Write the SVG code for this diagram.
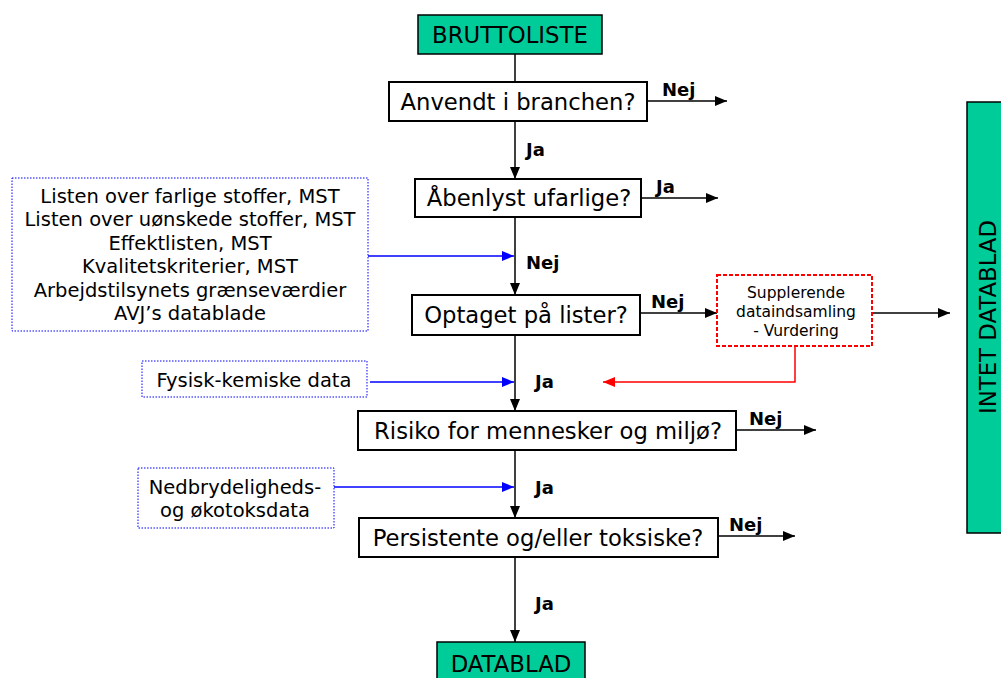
<svg xmlns="http://www.w3.org/2000/svg" width="1001" height="678" viewBox="0 0 1001 678">
<defs>
<marker id="ah" viewBox="0 0 12 10" refX="12" refY="5" markerWidth="12" markerHeight="10" markerUnits="userSpaceOnUse" orient="auto"><path d="M0,0 L12,5 L0,10 z" fill="#000"/></marker>
<marker id="ahb" viewBox="0 0 12 10" refX="12" refY="5" markerWidth="12" markerHeight="10" markerUnits="userSpaceOnUse" orient="auto"><path d="M0,0 L12,5 L0,10 z" fill="#0000FF"/></marker>
<marker id="ahr" viewBox="0 0 12 10" refX="12" refY="5" markerWidth="12" markerHeight="10" markerUnits="userSpaceOnUse" orient="auto"><path d="M0,0 L12,5 L0,10 z" fill="#FF0000"/></marker>
</defs>
<style>
text{font-family:"DejaVu Sans","Liberation Sans",sans-serif;fill:#000}
.box{fill:#fff;stroke:#000;stroke-width:2}
.grn{fill:#00CC99;stroke:#000;stroke-width:1.5}
.src{fill:#fff;stroke:#0000FF;stroke-width:1;stroke-dasharray:1.5,1.5}
.red{fill:#fff;stroke:#FF0000;stroke-width:2;stroke-dasharray:4,2}
.q{font-size:22.7px;text-anchor:middle}
.t{font-size:22.8px;text-anchor:middle}
.lbl{font-size:18px;font-weight:bold}
.s{font-size:19.5px;text-anchor:middle}
.sp{font-size:15.5px;text-anchor:middle}
.c{stroke:#000;stroke-width:1.5;fill:none}
.cb{stroke:#0000FF;stroke-width:1.5;fill:none}
.cr{stroke:#FF0000;stroke-width:1.5;fill:none}
</style>
<g id="connectors">
<line class="c" x1="515" y1="54" x2="515" y2="82"/>
<line class="c" x1="515" y1="121" x2="515" y2="179" marker-end="url(#ah)"/>
<line class="c" x1="515" y1="217" x2="515" y2="295" marker-end="url(#ah)"/>
<line class="c" x1="515" y1="335" x2="515" y2="411" marker-end="url(#ah)"/>
<line class="c" x1="515" y1="450" x2="515" y2="518" marker-end="url(#ah)"/>
<line class="c" x1="515" y1="557" x2="515" y2="642" marker-end="url(#ah)"/>
<line class="c" x1="647" y1="101" x2="727" y2="101" marker-end="url(#ah)"/>
<line class="c" x1="641" y1="198" x2="718" y2="198" marker-end="url(#ah)"/>
<line class="c" x1="640" y1="313" x2="717" y2="313" marker-end="url(#ah)"/>
<line class="c" x1="872" y1="313" x2="950" y2="313" marker-end="url(#ah)"/>
<line class="c" x1="736" y1="430" x2="816" y2="430" marker-end="url(#ah)"/>
<line class="c" x1="718" y1="536" x2="795" y2="536" marker-end="url(#ah)"/>
<line class="cb" x1="368" y1="256" x2="514" y2="256" marker-end="url(#ahb)"/>
<line class="cb" x1="370" y1="382" x2="514" y2="382" marker-end="url(#ahb)"/>
<line class="cb" x1="334" y1="487" x2="514" y2="487" marker-end="url(#ahb)"/>
<polyline class="cr" points="795,346 795,382 603,382" marker-end="url(#ahr)"/>
<text class="lbl" x="662" y="96">Nej</text>
<text class="lbl" x="526" y="156">Ja</text>
<text class="lbl" x="656" y="193">Ja</text>
<text class="lbl" x="526" y="269">Nej</text>
<text class="lbl" x="651" y="308">Nej</text>
<text class="lbl" x="535" y="388">Ja</text>
<text class="lbl" x="749" y="425">Nej</text>
<text class="lbl" x="535" y="494">Ja</text>
<text class="lbl" x="729" y="531">Nej</text>
<text class="lbl" x="535" y="610">Ja</text>
</g>
<g id="bruttoliste"><rect class="grn" x="418" y="15" width="184" height="39"/><text class="t" x="510" y="43">BRUTTOLISTE</text></g>
<g id="anvendt"><rect class="box" x="389" y="82" width="258" height="39"/><text class="q" x="518" y="110">Anvendt i branchen?</text></g>
<g id="aabenlyst"><rect class="box" x="415" y="179" width="226" height="38"/><text class="q" x="529" y="206">Åbenlyst ufarlige?</text></g>
<g id="optaget"><rect class="box" x="412" y="295" width="228" height="40"/><text class="q" x="526" y="323">Optaget på lister?</text></g>
<g id="risiko"><rect class="box" x="358" y="411" width="378" height="39"/><text class="q" x="548" y="439">Risiko for mennesker og miljø?</text></g>
<g id="persistente"><rect class="box" x="359" y="518" width="359" height="39"/><text class="q" x="538" y="546">Persistente og/eller toksiske?</text></g>
<g id="datablad"><rect class="grn" x="437" y="642" width="148" height="40"/><text class="t" x="511" y="672">DATABLAD</text></g>
<g id="intet"><rect class="grn" x="967" y="102" width="40" height="431"/><text class="t" transform="translate(996,317) rotate(-90)" x="0" y="0">INTET DATABLAD</text></g>
<g id="supplerende"><rect class="red" x="717" y="275" width="155" height="71"/>
<text class="sp" x="796" y="298">Supplerende</text>
<text class="sp" x="796" y="317">dataindsamling</text>
<text class="sp" x="796" y="336">- Vurdering</text></g>
<g id="lister"><rect class="src" x="12" y="178" width="356" height="153"/>
<text class="s" x="190" y="203">Listen over farlige stoffer, MST</text>
<text class="s" x="190" y="226">Listen over uønskede stoffer, MST</text>
<text class="s" x="190" y="250">Effektlisten, MST</text>
<text class="s" x="190" y="273">Kvalitetskriterier, MST</text>
<text class="s" x="190" y="297">Arbejdstilsynets grænseværdier</text>
<text class="s" x="190" y="320">AVJ’s datablade</text></g>
<g id="fysisk"><rect class="src" x="142" y="361" width="225" height="36"/><text class="s" x="254" y="387">Fysisk-kemiske data</text></g>
<g id="nedbryd"><rect class="src" x="138" y="468" width="196" height="60"/>
<text class="s" x="235" y="494">Nedbrydeligheds-</text>
<text class="s" x="235" y="517">og økotoksdata</text></g>
</svg>
